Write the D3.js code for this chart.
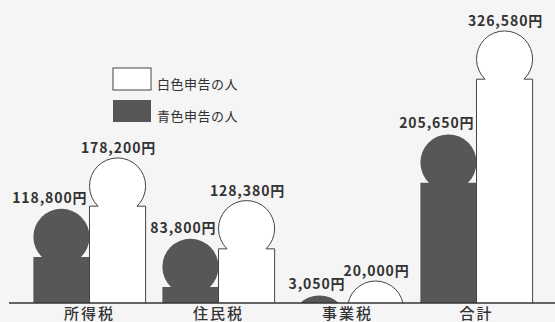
<!DOCTYPE html>
<html>
<head>
<meta charset="utf-8">
<script src="https://cdn.jsdelivr.net/npm/d3@7"></script>
<style>
  html, body { margin: 0; padding: 0; background: #f5f5f5; }
  svg { display: block; }
</style>
</head>
<body>
<svg id="chart" width="555" height="322"></svg>
<script>
// ---- data ----
const categories = ["所得税", "住民税", "事業税", "合計"];
const seriesKeys = ["blue", "white"];
const seriesNames = { white: "白色申告の人", blue: "青色申告の人" };
const blueValues = [118800, 83800, 3050, 205650];
const whiteValues = [178200, 128380, 20000, 326580];
const legendOrder = ["white", "blue"];

// ---- layout ----
const W = 555, H = 322;
const baseline = 303;
const colors = { blue: "#575757", white: "#ffffff" };
const textColor = "#333";
const font = "'Noto Sans CJK JP', 'Noto Sans', sans-serif";

const svg = d3.select("#chart");
svg.append("rect").attr("width", W).attr("height", H).attr("fill", "#f5f5f5");

const x = d3.scaleBand().domain(categories).range([25, 541])
  .paddingInner(0.13).paddingOuter(0.065);
const xs = d3.scaleBand().domain(seriesKeys).range([0, x.bandwidth()]);
// top of figure (head) — illustrative, small values exaggerated
const yTop = d3.scaleLinear()
  .domain([0, 20000, 80000, 330000])
  .range([baseline - 5, baseline - 22, baseline - 61, baseline - 275]);

const rows = categories.map((c, i) => ({ cat: c, blue: blueValues[i], white: whiteValues[i] }));

svg.append("defs").append("clipPath").attr("id", "aboveBase")
  .append("rect").attr("x", 0).attr("y", 0).attr("width", W).attr("height", baseline);

function figurePath(x0, w, v) {
  const r = w / 2;
  const cx = x0 + r;
  const top = yTop(v);
  const cy = top + r;
  const drop = 0.72 * r;
  const rt = cy + drop;
  const dx = Math.sqrt(r * r - drop * drop);
  const bottom = Math.max(baseline, rt);
  return `M${x0},${bottom} L${x0},${rt} L${cx - dx},${rt} A${r},${r} 0 1 1 ${cx + dx},${rt} L${x0 + w},${rt} L${x0 + w},${bottom}`;
}

const g = svg.append("g").attr("clip-path", "url(#aboveBase)");
rows.forEach(d => {
  seriesKeys.forEach(k => {
    const x0 = x(d.cat) + xs(k);
    g.append("path")
      .attr("d", figurePath(x0, xs.bandwidth(), d[k]))
      .attr("fill", colors[k])
      .attr("stroke", k === "white" ? "#444" : "none")
      .attr("stroke-width", 1);
  });
});

// baseline
svg.append("line").attr("x1", 9).attr("x2", W).attr("y1", baseline).attr("y2", baseline)
  .attr("stroke", "#333").attr("stroke-width", 1.6);

// value labels
const fmt = v => d3.format(",")(v) + "円";
const labelStyle = sel => sel
  .attr("font-family", font).attr("font-size", 14).attr("font-weight", "bold")
  .attr("letter-spacing", "0.9px")
  .attr("fill", textColor);
rows.forEach(d => {
  const bx = x(d.cat) + xs("blue");
  svg.append("text")
    .attr("x", bx + xs.bandwidth() - 2)
    .attr("y", yTop(d.blue) - 6)
    .attr("text-anchor", "end")
    .call(labelStyle)
    .text(fmt(d.blue));
  const wx = x(d.cat) + xs("white");
  svg.append("text")
    .attr("x", wx + xs.bandwidth() / 2 + 1)
    .attr("y", yTop(d.white) - 5)
    .attr("text-anchor", "middle")
    .call(labelStyle)
    .text(fmt(d.white));
});

// category axis labels
const xAxis = d3.axisBottom(x).tickSize(0).tickPadding(0);
const ax = svg.append("g").attr("transform", `translate(0,${baseline})`).call(xAxis);
ax.select(".domain").remove();
ax.selectAll("text")
  .attr("y", 16)
  .attr("dy", 0)
  .attr("font-family", font).attr("font-size", 15).attr("font-weight", 500)
  .attr("letter-spacing", "2px")
  .attr("fill", textColor);

// legend
const leg = svg.append("g").attr("transform", "translate(113,68)");
legendOrder.forEach((k, i) => {
  const gy = i * 32;
  leg.append("rect").attr("x", 0).attr("y", gy).attr("width", 38).attr("height", 22)
    .attr("fill", colors[k]).attr("stroke", k === "white" ? "#444" : "none").attr("stroke-width", 1);
  leg.append("text").attr("x", 44).attr("y", gy + 21)
    .attr("font-family", font).attr("font-size", 13).attr("letter-spacing", "0.5px")
    .attr("fill", textColor).text(seriesNames[k]);
});
</script>
</body>
</html>
